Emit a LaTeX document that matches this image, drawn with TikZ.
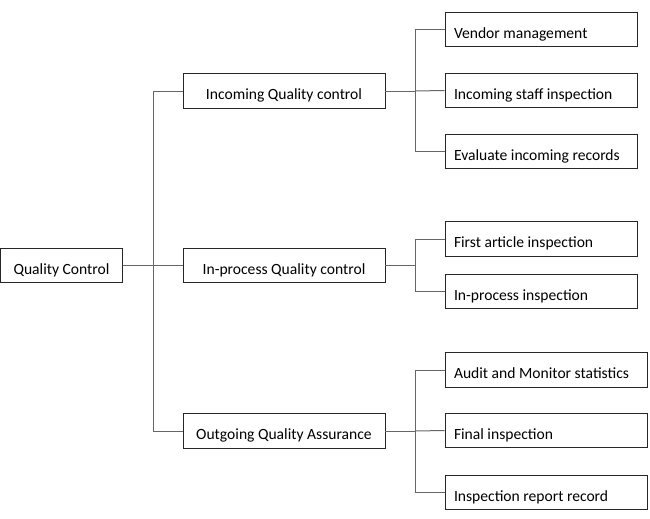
\documentclass[tikz,border=0pt]{standalone}
\usepackage{fontspec}
\setmainfont{Carlito}
\usepackage{tikz}

\begin{document}
\begin{tikzpicture}[x=0.75pt,y=-0.75pt,font=\fontsize{11.7pt}{14pt}\selectfont]
    \tikzstyle{every node}+=[inner sep=0pt]
    \tikzstyle{box}=[draw=black!85, line width=0.6pt, minimum height=26pt, text height=13pt, text depth=0pt]
    \tikzstyle{rootbox}=[box, minimum width=91.5pt, align=center]
    \tikzstyle{mainbox}=[box, minimum width=151.5pt, align=center]
    \tikzstyle{subbox}=[box, inner xsep=6.75pt, text width=130.5pt, align=flush left]
    \tikzstyle{widebox}=[subbox, text width=138pt]
    \tikzstyle{link}=[draw=black!60, line width=0.75pt]
    \useasboundingbox (0,0) rectangle (650,518);
    % boxes
    \node [rootbox] (qc) at (61.5,265.5) {Quality Control};
    \node [mainbox] (iqc) at (284,91) {Incoming Quality control};
    \node [mainbox] (ipqc) at (284,265.5) {In-process Quality control};
    \node [mainbox] (oqa) at (284,431) {Outgoing Quality Assurance};
    \node [subbox] (vendor) at (541,29.5) {Vendor management};
    \node [subbox] (staff) at (541,90.5) {Incoming staff inspection};
    \node [subbox] (records) at (541,151.5) {Evaluate incoming records};
    \node [subbox] (first) at (541,239) {First article inspection};
    \node [subbox] (inproc) at (541,291.5) {In-process inspection};
    \node [widebox] (audit) at (546,370) {Audit and Monitor statistics};
    \node [widebox] (final) at (546,430.5) {Final inspection};
    \node [widebox] (report) at (546,492.5) {Inspection report record};
    % bus points
    \coordinate (bus0) at (153,265.5);
    \coordinate (bus1) at (415,91);
    \coordinate (bus2) at (415,265.5);
    \coordinate (bus3) at (415,431);
    % connectors
    \draw [link] (qc.east) -- (bus0);
    \draw [link] (bus0) |- (iqc.west);
    \draw [link] (bus0) -- (ipqc.west);
    \draw [link] (bus0) |- (oqa.west);
    \draw [link] (iqc.east) -- (bus1);
    \draw [link] (bus1) |- (vendor.west);
    \draw [link] (bus1) -- (staff.west);
    \draw [link] (bus1) |- (records.west);
    \draw [link] (ipqc.east) -- (bus2);
    \draw [link] (bus2) |- (first.west);
    \draw [link] (bus2) |- (inproc.west);
    \draw [link] (oqa.east) -- (bus3);
    \draw [link] (bus3) |- (audit.west);
    \draw [link] (bus3) -- (final.west);
    \draw [link] (bus3) |- (report.west);
\end{tikzpicture}
\end{document}
